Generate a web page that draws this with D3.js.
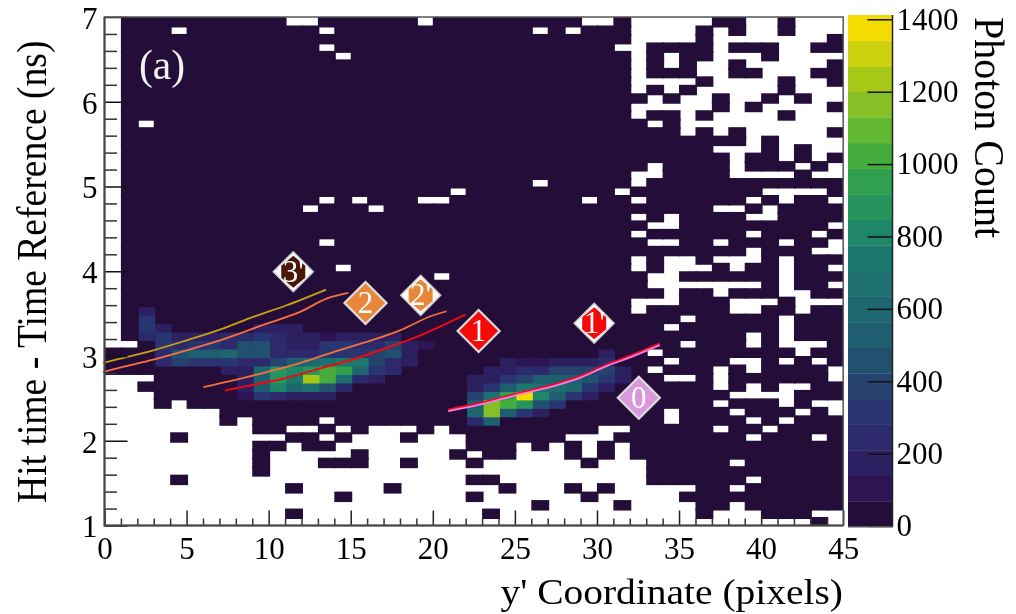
<!DOCTYPE html>
<html><head><meta charset="utf-8">
<script src="https://cdn.jsdelivr.net/npm/d3@7"></script>
<style>html,body{margin:0;padding:0;background:#fff}svg{display:block;filter:blur(0.35px)}text{font-family:"Liberation Serif",serif}</style>
</head><body><div id="chart"></div>
<script>
// ---- data ----
const xTicks=[0,5,10,15,20,25,30,35,40,45];
const yTicks=[1,2,3,4,5,6,7];
const zTicks=[0,200,400,600,800,1000,1200,1400];
const zMax=1412;
const xBins=45, yBins=60;
// columns with no photons, one list per row, top row (6.9-7.0 ns) first
const emptyByRow=[
[0,11,12,19,29,30,32,33,34,35,36,39,40,42,43,44],
[0,4,13,26,28,32,33,34,35,37,39,40,42,43,44],
[0,32,33,34,35,37,38,39,40,41,42,43],
[0,13,31,32,37,41,42],
[0,14,32,34,37,38,39,41,42,43,44],
[0,32,34,36,37,39,40,41,42,43],
[0,32,36,37,40,41,42],
[0,32,33,34,35,37,38,39,40,42,43],
[0,32,34,36,37,38,39,40,42,43,44],
[0,33,35,36,38,39,41,43,44],
[0,32,33,34,35,36,38,40,41,42,43],
[0,32,35,37,38,39,40,42,43,44],
[0,2,33,35,36,37,38,39,40,41,42,43,44],
[0,35,37,39,40,41,42,43],
[0,39,41,42,43,44],
[0,37,38,39,41,43,44],
[0,38,41,43],
[0,33,38,42,44],
[0,32,33,38,39,40,41,43,44],
[0,26,32],
[0,21,31,40,41,42,43],
[0,13,15,19,20,29,32,39,41,44],
[0,12,16,37,38,40],
[0,32,34,39,40],
[0,33,34,44],
[0,32,39,43],
[0,13,33,34,37,41,44],
[0,39,43,44],
[0,32,34,35,37,38,39,41],
[0,14,32,34,35,36,38,41,44],
[0,20,33,34,41],
[0,33,34,35,36,37,38,39,41,44],
[0,34,37,41,42],
[0,32,33,34,38,39,40,42,43,44],
[0,32,38,39,42],
[0,35,41],
[0,34,41],
[0,39,41],
[0,1,35,39,41,42,43],
[33,42],
[34,38,39,41,43],
[33,37,39,44],
[0,1,2,34,35,37,44],
[0,1,37,39,41,42],
[0,1,2,38,39,40,41],
[0,1,2,4,37,41,43,44],
[0,1,2,3,4,5,6,34,38,42,44],
[0,1,2,3,4,5,6,8,13,34,39,41],
[0,1,2,3,4,5,6,7,8,11,12,14,16,17,18,20,30,31,37,40],
[0,1,2,3,5,6,7,8,9,10,13,15,16,17,19,20,21,28,29,30,39,43],
[0,1,2,3,4,5,6,7,8,11,14,15,16,17,18,19,20,21,25,27,29,31],
[0,1,2,3,4,5,6,7,8,10,11,12,13,14,16,17,18,19,20,22,25,26,27,29,31],
[0,1,2,3,4,5,6,7,8,10,11,12,16,17,19,20,21,23,24,25,26,27,28,30,31,32,38],
[0,1,2,3,4,5,6,7,8,10,11,12,13,14,15,16,17,18,19,20,21,22,23,24,25,26,27,28,29,30,31,32],
[0,1,2,3,5,6,7,8,9,10,11,12,13,14,15,16,17,18,19,20,21,24,25,26,27,28,29,30,31,32,39],
[0,1,2,3,4,5,6,7,8,9,10,12,13,14,15,16,18,19,20,21,22,23,25,26,27,29,31,32,33,34,35,38],
[0,1,2,3,4,5,6,7,8,9,10,11,12,13,15,16,17,18,19,20,21,23,24,25,26,27,28,30,31,32,33,34],
[0,1,2,3,4,5,6,7,8,9,10,11,12,13,14,15,16,17,18,19,20,21,22,23,24,25,27,28,29,30,32,33,34,35,38],
[0,1,2,3,4,5,6,7,8,9,10,12,13,14,15,16,17,18,19,20,21,22,24,25,26,27,28,29,30,31,32,33,34,35,37,38,39,43,44],
[0,1,2,3,4,5,6,7,8,9,10,11,12,13,14,15,16,17,18,19,20,21,22,23,24,25,26,27,28,29,30,31,32,33,34,35,36,37,38,39,40,41,42,44]
];
const backgroundCount=20;
// [row, first column, photon counts...]
const hotRows=[
[34,2,[180]],
[35,2,[320]],
[36,2,[320,180]],[36,9,[180,180,180]],
[37,2,[250,320,180,180,180,250,250,320,250,180,180,110,180,180,180,180]],
[38,3,[320,250,320,320,250,460,460,250,180,180,320,320,250,250,390,180,110]],
[39,3,[250,460,530,530,600,460,460,250,250,250,320,320,320,390,460,180]],
[40,3,[250,390,320,320,320,250,250,390,530,600,670,740,740,390,250,180]],
[41,7,[180,180,600,880,810,880,1020,950,600,320,250]],
[42,8,[180,530,880,740,1240,1020,670,250,180]],
[43,8,[180,530,810,600,670,460,250]],
[44,8,[110,320,250,180,180,180]],
[39,30,[180]],
[40,24,[180,110,110,180,180,180,250]],
[41,23,[180,180,250,250,390,390,390,390,180]],
[42,22,[180,180,320,390,530,530,530,460,320,180]],
[43,22,[180,320,530,740,670,670,600,320,180]],
[44,22,[390,670,950,1380,810,530,320,180]],
[45,22,[530,1160,1020,880,460,320]],
[46,22,[600,1200,530,320,180]],
[47,22,[250,530]]
];
const bandColors=["#240e39","#2d1553","#2d2060","#2c2a6c","#293570","#264370","#22506f","#1f5d70","#1e6770","#1e7070","#1c786c","#1f8668","#27945e","#30a04f","#45ad3e","#63b831","#86c026","#a7c915","#cdd20f","#f4dc00"];
// curves: x in pixels, y in ns
const goldX=[-0.11,0.94,2.97,5.0,7.03,9.06,11.1,13.5];
const goldY=[2.917,2.968,3.067,3.185,3.311,3.461,3.599,3.784];
const orangeAX=[-0.11,0.94,2.97,5.0,7.03,9.88,11.91,13.53,14.85];
const orangeAY=[2.811,2.863,2.957,3.067,3.185,3.382,3.52,3.677,3.744];
const orangeBX=[6.02,7.84,9.88,11.91,13.94,15.97,18.0,20.03,20.84];
const orangeBY=[2.633,2.712,2.811,2.917,3.047,3.166,3.303,3.481,3.528];
const redX=[7.34,8.86,10.89,12.92,14.95,16.98,19.01,21.04,21.99];
const redY=[2.594,2.653,2.732,2.842,2.949,3.079,3.225,3.402,3.489];
const pinkX=[20.94,23.07,25.1,27.13,28.96,30.58,32.21,33.83];
const pinkY=[2.35,2.435,2.538,2.632,2.742,2.88,2.998,3.128];
const pinkRedY=[2.366,2.452,2.556,2.65,2.76,2.898,3.016,3.146];
const curves=[
 {x:goldX,y:goldY,c:"#c9a20f",w:1.8},
 {x:orangeAX,y:orangeAY,c:"#fb6f3c",w:1.8},
 {x:orangeBX,y:orangeBY,c:"#f5703a",w:1.8},
 {x:redX,y:redY,c:"#f00a10",w:2},
 {x:pinkX,y:pinkRedY,c:"#f00a28",w:2.2},
 {x:pinkX,y:pinkY,c:"#f47fe0",w:1.8}
];
const markerNames=["3'","2","2'","1","1'","0"];
const markerX=[11.5,15.9,19.26,22.79,29.83,32.55];
const markerY=[3.994,3.625,3.716,3.295,3.386,2.508];
const markerFill=["#4a1608","#e8873a","#e8873a","#f50a0a","#f50a0a","#d998dc"];
const markerPrimed=[true,false,true,false,true,false];

// ---- drawing ----
const W=1016,H=614,L=104.5,R=843.2,T=17,B=525.5;
const svg=d3.select("#chart").append("svg").attr("width",W).attr("height",H);
const x=d3.scaleLinear().domain([0,45]).range([L,R]);
const y=d3.scaleLinear().domain([1,7]).range([B,T]);
const z=d3.scaleQuantize().domain([0,zMax]).range(bandColors);
const zY=d3.scaleLinear().domain([0,zMax]).range([527,15]);
const defs=svg.append("defs");
defs.append("clipPath").attr("id","plot").append("rect").attr("x",L).attr("y",T).attr("width",R-L).attr("height",B-T);

svg.append("rect").attr("x",L).attr("y",T).attr("width",R-L).attr("height",B-T).attr("fill","#fff");
const counts=d3.range(yBins).map(()=>new Array(xBins).fill(backgroundCount));
emptyByRow.forEach((cols,r)=>cols.forEach(c=>counts[r][c]=0));
hotRows.forEach(([r,c0,vals])=>vals.forEach((v,i)=>counts[r][c0+i]=v));
const cells=[];
for(let r=yBins-1;r>=0;r--)for(let c=xBins-1;c>=0;c--)if(counts[r][c]>0)cells.push({r,c,v:counts[r][c]});
const binX=45/xBins, binY=6/yBins, bleedX=1.5, bleedY=2;
svg.append("g").attr("clip-path","url(#plot)").selectAll("rect").data(cells).join("rect")
 .attr("x",d=>x(d.c*binX))
 .attr("y",d=>y(7-d.r*binY))
 .attr("width",x(binX)-x(0)+bleedX)
 .attr("height",y(7-binY)-y(7)+bleedY)
 .attr("fill",d=>z(d.v));

// curves
const line=d3.line().x(d=>x(d[0])).y(d=>y(d[1])).curve(d3.curveMonotoneX);
const gc=svg.append("g");
curves.forEach(k=>gc.append("path").attr("d",line(k.x.map((v,i)=>[v,k.y[i]]))).attr("fill","none").attr("stroke",k.c).attr("stroke-width",k.w));

// axes
const fontAxis=31;
function styleAxis(g,col,w){g.select(".domain").remove();g.selectAll("line").attr("stroke",col).attr("stroke-width",w);}
const xMinorVals=d3.range(0,46).filter(v=>v%5);
const gx1=svg.append("g").attr("transform",`translate(0,${B})`).call(d3.axisBottom(x).tickValues(xMinorVals).tickSize(-7).tickFormat(""));
styleAxis(gx1,"#333",1.5);
const gx2=svg.append("g").attr("transform",`translate(0,${B})`).call(d3.axisBottom(x).tickValues(xTicks).tickSize(-15).tickPadding(9).tickSizeOuter(0).tickFormat(d3.format("d")));
styleAxis(gx2,"#222",1.5);
gx2.selectAll("text").attr("font-size",fontAxis).attr("font-family","Liberation Serif").attr("fill","#000");
gx2.selectAll(".tick text").attr("dy","0.78em");
const yMinorVals=d3.range(1,7.01,0.2).filter(v=>Math.abs(v-Math.round(v))>0.01);
const gy1=svg.append("g").attr("transform",`translate(${L},0)`).call(d3.axisLeft(y).tickValues(yMinorVals).tickSize(-12.5).tickFormat(""));
styleAxis(gy1,"#333",1.5);
const gy2=svg.append("g").attr("transform",`translate(${L},0)`).call(d3.axisLeft(y).tickValues(yTicks).tickSize(-23).tickPadding(7).tickSizeOuter(0).tickFormat(d3.format("d")));
styleAxis(gy2,"#111",1.5);
gy2.selectAll("text").attr("font-size",fontAxis).attr("font-family","Liberation Serif").attr("fill","#000").attr("dy","0.37em");

// frame
svg.append("path").attr("d",`M${L},${T}H${R}V${B}H${L}Z`).attr("fill","none").attr("stroke","#555").attr("stroke-width",1.5);
svg.append("path").attr("d",`M${L},${T}V${B}H${R}`).attr("fill","none").attr("stroke","#444").attr("stroke-width",2);

// axis titles
svg.append("text").attr("transform","translate(46,503) rotate(-90) scale(1,1.1)").attr("font-size",37.6).attr("fill","#000").text("Hit time - Time Reference (ns)");
svg.append("text").attr("transform","translate(843,604) scale(1.097,1)").attr("text-anchor","end").attr("font-size",36).attr("fill","#000").text("y' Coordinate (pixels)");
svg.append("text").attr("transform","translate(975,17) rotate(90) scale(1,1.08)").attr("font-size",40).attr("fill","#000").text("Photon Count");

// (a)
svg.append("text").attr("x",139).attr("y",78.5).attr("font-size",41.5).attr("fill","#f2f2f2").text("(a)");

// markers
const mk=svg.append("g").selectAll("g").data(markerNames).join("g").attr("transform",(d,i)=>`translate(${x(markerX[i])},${y(markerY[i])})`);
mk.each(function(d,i){
 const g=d3.select(this);
 if(markerPrimed[i]){
  g.append("path").attr("d","M0,-20L20,0L0,20L-20,0Z").attr("fill","#fff").attr("stroke","#ccc").attr("stroke-width",1.5);
  g.append("path").attr("d","M0,-16L12,-6V6L0,16L-12,6V-6Z").attr("fill",markerFill[i]);
 } else {
  g.append("path").attr("d","M0,-21L21,0L0,21L-21,0Z").attr("fill",markerFill[i]).attr("stroke","#ddd").attr("stroke-width",2.2);
 }
 g.append("text").attr("text-anchor","middle").attr("y",10).attr("font-size",31).attr("fill","#fff").text(d);
});

// colour bar
const barX0=848,barX1=892.5;
const bandW=zMax/bandColors.length;
svg.append("g").selectAll("rect").data(bandColors).join("rect")
 .attr("x",barX0).attr("width",barX1-barX0)
 .attr("y",(d,i)=>zY((i+1)*bandW)).attr("height",zY(0)-zY(bandW)+0.3).attr("fill",d=>d);
const ga=svg.append("g").attr("transform",`translate(${barX1},0)`).call(d3.axisRight(d3.scaleLinear().domain([0,1400]).range([526,19.3])).tickValues(zTicks).tickSize(-25).tickPadding(4).tickSizeOuter(0).tickFormat(d3.format("d")));
ga.select(".domain").remove();
ga.selectAll("line").attr("stroke","#111").attr("stroke-width",1.5);
ga.selectAll("text").attr("font-size",fontAxis).attr("font-family","Liberation Serif").attr("fill","#000");
svg.append("line").attr("x1",barX1).attr("x2",barX1).attr("y1",15).attr("y2",527).attr("stroke","#222").attr("stroke-width",1.5);
svg.append("path").attr("d",`M${barX0},527H${barX1}`).attr("stroke","#999").attr("stroke-width",1);
</script></body></html>
